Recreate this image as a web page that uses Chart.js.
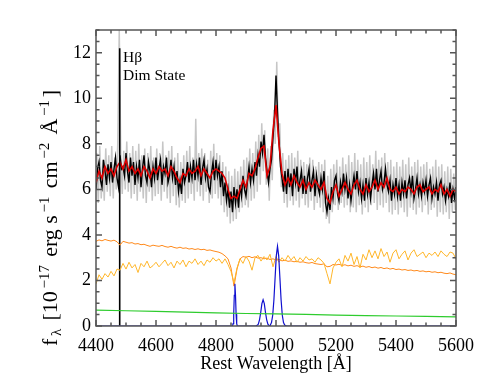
<!DOCTYPE html>
<html>
<head>
<meta charset="utf-8">
<script src="https://cdn.jsdelivr.net/npm/chart.js@4.4.1/dist/chart.umd.min.js"></script>
<style>
  html, body { margin: 0; padding: 0; background: #fff; }
  canvas { display: block; }
</style>
</head>
<body>
<canvas id="spec" width="485" height="388" style="width:485px;height:388px"></canvas>
<script>
// wavelength grids (Angstrom)
const grid = (start, step, n) => Array.from({length: n}, (_, i) => start + i * step);
const wave5 = grid(4400, 5, 241);
const waveGrey = grid(4402.5, 5, 240);
const wave10 = grid(4400, 10, 121);

// observed spectrum (black), 5 A steps
const blackFlux = [
  6.0, 6.9, 7.2, 6.4, 6.1, 7.3, 6.8, 6.2, 7.1, 6.5,
  7.2, 6.3, 6.9, 7.4, 6.5, 6.1, 7.5, 6.9, 7.0, 6.6,
  7.6, 6.8, 6.3, 7.4, 6.6, 7.2, 6.2, 7.0, 6.5, 7.3,
  6.1, 6.9, 7.5, 6.6, 6.3, 7.2, 6.8, 6.1, 7.0, 6.5,
  7.4, 6.4, 6.9, 7.3, 6.2, 7.0, 6.7, 7.4, 6.3, 6.6,
  7.3, 6.5, 7.0, 6.2, 6.8, 5.9, 6.4, 5.8, 6.9, 6.3,
  6.6, 7.2, 6.3, 7.0, 6.5, 7.3, 6.4, 7.1, 6.6, 7.4,
  6.2, 6.9, 7.3, 6.5, 6.9, 6.1, 5.9, 6.7, 7.2, 6.4,
  7.3, 6.6, 7.0, 6.1, 6.8, 5.7, 6.3, 5.5, 6.0, 5.2,
  5.9, 5.0, 6.1, 5.4, 6.0, 5.2, 6.2, 5.7, 6.6, 6.0,
  5.7, 6.4, 7.0, 6.3, 6.9, 6.4, 7.2, 6.6, 7.5, 7.0,
  8.1, 7.6, 8.4, 7.4, 6.8, 6.3, 6.9, 7.3, 8.3, 9.2,
  11.0, 9.4, 8.1, 7.0, 6.5, 5.9, 6.8, 5.8, 6.9, 6.1,
  6.7, 5.7, 6.9, 6.3, 7.0, 5.9, 6.4, 6.8, 5.8, 6.6,
  5.8, 6.5, 6.9, 5.9, 6.4, 6.8, 5.7, 6.6, 6.1, 5.8,
  6.5, 6.0, 6.8, 5.4, 5.0, 5.6, 5.1, 6.1, 5.6, 6.4,
  6.6, 5.8, 5.5, 6.3, 5.9, 6.7, 6.0, 6.5, 5.6, 6.2,
  5.5, 6.1, 6.6, 6.0, 6.8, 5.9, 6.3, 5.6, 6.2, 5.5,
  6.5, 5.8, 6.3, 5.6, 6.2, 6.7, 6.0, 6.9, 5.9, 6.4,
  6.8, 6.0, 6.3, 6.9, 6.2, 5.9, 6.4, 5.5, 6.2, 5.8,
  6.5, 5.7, 6.2, 5.5, 6.3, 5.8, 6.4, 5.6, 6.2, 6.5,
  5.9, 6.6, 5.6, 6.0, 6.5, 5.8, 6.2, 5.7, 6.3, 5.9,
  6.4, 5.7, 6.2, 6.5, 5.6, 6.1, 5.8, 6.3, 5.5, 6.2,
  6.4, 5.8, 6.1, 5.5, 6.0, 5.7, 6.3, 5.4, 6.0, 5.6,
  6.1
];

// error envelope (grey), offset grid
const greyFlux = [
  7.6, 5.4, 7.9, 5.6, 7.3, 5.5, 7.8, 5.9, 7.5, 5.7,
  7.9, 5.6, 7.4, 6.0, 8.0, 13.0, 7.6, 5.8, 7.7, 6.0,
  8.1, 5.9, 7.6, 5.6, 7.9, 5.8, 7.7, 5.5, 8.0, 5.9,
  7.5, 5.6, 7.8, 5.4, 7.6, 5.9, 7.9, 5.5, 7.4, 5.7,
  7.8, 5.8, 7.6, 5.5, 8.1, 5.9, 7.5, 5.6, 7.7, 5.4,
  7.9, 5.7, 7.4, 5.3, 7.6, 5.2, 7.2, 5.5, 7.5, 5.4,
  7.7, 5.6, 7.9, 5.8, 7.4, 5.5, 9.1, 5.9, 7.6, 5.7,
  7.8, 5.5, 7.6, 5.9, 7.3, 5.4, 7.7, 5.6, 8.0, 5.8,
  7.6, 5.6, 7.5, 5.3, 7.2, 5.0, 7.0, 4.8, 6.8, 4.5,
  6.6, 4.6, 6.9, 4.7, 6.8, 5.0, 7.0, 5.2, 7.3, 5.3,
  7.4, 5.2, 7.8, 5.5, 7.6, 5.6, 8.1, 5.9, 8.4, 6.2,
  8.9, 6.8, 8.6, 6.2, 7.8, 5.5, 7.9, 6.4, 9.5, 8.0,
  11.6, 8.3, 8.9, 6.1, 7.6, 5.4, 7.3, 5.2, 7.5, 5.5,
  7.6, 5.3, 7.4, 5.5, 7.7, 5.2, 7.3, 5.6, 7.2, 5.3,
  7.1, 5.2, 7.4, 5.5, 7.3, 5.1, 7.0, 5.4, 7.2, 5.2,
  7.1, 5.0, 7.3, 4.7, 6.6, 4.5, 6.9, 5.0, 7.1, 5.3,
  7.3, 5.1, 7.0, 5.4, 7.4, 5.2, 7.1, 5.3, 7.5, 5.0,
  7.2, 5.2, 7.6, 5.0, 7.3, 5.3, 7.1, 4.9, 7.4, 5.2,
  7.2, 5.0, 7.5, 5.3, 7.1, 5.4, 7.7, 5.1, 7.3, 5.3,
  7.4, 5.2, 7.6, 5.4, 7.2, 5.0, 7.3, 4.9, 7.0, 5.1,
  7.2, 4.9, 7.0, 5.2, 7.3, 5.0, 7.1, 4.8, 7.4, 5.2,
  7.0, 5.1, 7.2, 4.9, 7.3, 5.2, 7.0, 5.0, 7.1, 5.3,
  7.2, 4.9, 6.9, 5.1, 7.0, 5.2, 7.3, 4.8, 7.0, 5.0,
  7.1, 4.9, 6.8, 5.0, 7.0, 4.7, 6.9, 5.0, 6.7, 5.1
];

// total model fit (red), 10 A steps
const redFlux = [
  6.3, 6.8, 6.5, 7.0, 6.7, 6.9, 6.6, 7.0, 7.2, 6.9,
  7.3, 6.8, 7.0, 6.7, 6.9, 6.6, 7.0, 6.8, 6.5, 6.9,
  6.7, 7.0, 6.8, 6.9, 6.6, 7.0, 6.8, 6.5, 6.3, 6.7,
  6.6, 6.9, 6.7, 6.8, 7.0, 6.6, 6.9, 6.7, 6.5, 6.8,
  6.9, 6.8, 6.7, 6.5, 6.0, 5.6, 5.7, 5.6, 6.0, 6.4,
  6.1, 6.7, 6.6, 6.9, 7.4, 7.8, 7.9, 6.6, 7.0, 8.6,
  9.7, 8.0, 6.7, 6.2, 6.5, 6.2, 6.6, 6.3, 6.1, 6.4,
  6.0, 6.3, 6.1, 6.4, 6.2, 6.0, 6.3, 5.6, 5.4, 5.9,
  6.2, 5.7, 6.0, 6.3, 6.0, 5.8, 6.2, 6.4, 6.0, 5.8,
  6.2, 5.9, 6.1, 6.4, 6.0, 6.3, 6.1, 6.5, 6.0, 5.9,
  6.1, 5.8, 6.0, 5.9, 6.1, 6.0, 5.8, 6.1, 6.2, 5.9,
  6.0, 6.1, 5.8, 6.0, 5.9, 6.2, 5.8, 6.0, 5.7, 6.0,
  5.9
];

// continuum component (dark orange)
const orangeFlux = [
  3.72, 3.78, 3.74, 3.80, 3.76, 3.73, 3.77, 3.70, 3.55, 3.72,
  3.68, 3.64, 3.66, 3.60, 3.62, 3.57, 3.59, 3.54, 3.50, 3.55,
  3.52, 3.50, 3.54, 3.49, 3.46, 3.50, 3.45, 3.42, 3.46, 3.41,
  3.43, 3.38, 3.40, 3.36, 3.39, 3.35, 3.37, 3.32, 3.34, 3.30,
  3.27, 3.24, 3.18, 3.08, 2.95, 2.55, 1.75, 2.50, 2.95, 3.05,
  3.02, 3.06, 3.00, 3.04, 2.98, 3.00, 2.95, 2.98, 2.92, 2.95,
  2.90, 2.92, 2.86, 2.89, 2.84, 2.86, 2.82, 2.84, 2.80, 2.82,
  2.78, 2.76, 2.79, 2.74, 2.72, 2.70, 2.73, 2.60, 2.62, 2.70,
  2.68, 2.71, 2.66, 2.69, 2.64, 2.67, 2.62, 2.65, 2.60, 2.63,
  2.58, 2.61, 2.56, 2.59, 2.54, 2.57, 2.52, 2.55, 2.50, 2.53,
  2.48, 2.50, 2.46, 2.48, 2.44, 2.46, 2.42, 2.44, 2.40, 2.42,
  2.38, 2.40, 2.36, 2.38, 2.34, 2.36, 2.32, 2.30, 2.33, 2.28,
  2.25
];

// host galaxy component (yellow-orange)
const yellowFlux = [
  1.85, 2.25, 2.05, 2.30, 2.15, 2.40, 2.20, 2.50, 2.45, 2.75,
  2.50, 2.80, 2.55, 2.70, 2.35, 2.75, 2.60, 2.85, 2.55, 2.65,
  2.80, 2.60, 2.75, 2.90, 2.65, 2.80, 2.55, 2.85, 2.70, 2.90,
  2.60, 2.85, 2.75, 2.95, 2.70, 2.85, 2.65, 2.90, 2.80, 3.00,
  2.85, 2.95, 2.75, 2.95, 2.70, 2.40, 1.90, 2.55, 2.95, 2.75,
  3.05, 2.85, 2.45, 3.00, 3.10, 2.85, 3.05, 2.90, 3.15, 2.60,
  3.05, 2.80, 3.00, 2.85, 3.10, 2.90, 3.05, 2.80, 3.00, 2.85,
  3.05, 2.90, 2.95, 2.80, 3.00, 2.90, 2.75, 2.30, 1.85, 2.55,
  2.80, 2.95, 2.60, 3.10, 2.85, 3.20, 2.70, 3.05, 2.55, 3.15,
  2.90, 3.35, 3.00, 3.30, 2.95, 3.40, 3.05, 3.25, 2.80, 3.20,
  3.35, 2.95, 3.15, 3.30, 2.90, 3.20, 3.35, 3.05, 3.15, 3.25,
  3.00, 3.20, 3.10, 3.25, 3.05, 3.30, 3.15, 3.05, 3.25, 3.20,
  2.95
];

// narrow lines: Hbeta, [OIII] 4959, [OIII] 5007 (blue)
const blueWave = [4400, 4855, 4857, 4859, 4861, 4863, 4865, 4867, 4869, 4871,
  4933, 4937, 4941, 4945, 4949, 4953, 4957, 4961, 4965, 4969, 4973, 4977, 4980,
  4981, 4985, 4989, 4993, 4997, 5001, 5005, 5009, 5013, 5017, 5021, 5025, 5029, 5035, 5600];
const blueFlux = [0, 0, 0.10, 0.52, 1.35, 1.85, 1.35, 0.52, 0.10, 0,
  0, 0.03, 0.08, 0.27, 0.59, 0.98, 1.15, 0.98, 0.59, 0.27, 0.08, 0.02, 0,
  0.04, 0.15, 0.47, 1.14, 2.12, 3.08, 3.5, 3.08, 2.12, 1.14, 0.47, 0.15, 0.04, 0, 0];

// power-law continuum (green)
const greenWave = [4400, 4500, 4600, 4700, 4800, 4900, 5000, 5100, 5200, 5300, 5400, 5500, 5600];
const greenFlux = [0.70, 0.67, 0.64, 0.61, 0.58, 0.55, 0.53, 0.51, 0.48, 0.46, 0.44, 0.42, 0.40];

// Hbeta marker
const hbWave = [4479, 4479];
const hbFlux = [0, 12.2];

const xTicks = [4400, 4600, 4800, 5000, 5200, 5400, 5600];
const yTicks = [0, 2, 4, 6, 8, 10, 12];

const pts = (xs, ys) => ys.map((v, i) => ({x: xs[i], y: v}));
const serif = "'Liberation Serif', 'DejaVu Serif', serif";
const axisCol = '#555';

// order: higher numbers are painted first (underneath)
const line = (xs, ys, color, width, order) => ({
  data: pts(xs, ys),
  borderColor: color,
  borderWidth: width,
  pointRadius: 0,
  fill: false,
  tension: 0,
  order: order
});

// inward ticks, frame, labels
const decor = {
  id: 'decor',
  afterDraw(chart) {
    const {ctx, chartArea: a, scales: {x, y}} = chart;
    ctx.save();
    ctx.strokeStyle = axisCol;
    ctx.lineWidth = 1.5;
    ctx.strokeRect(a.left, a.top, a.right - a.left, a.bottom - a.top);
    ctx.beginPath();
    for (let w = 4400; w <= 5600; w += 50) {
      const px = x.getPixelForValue(w);
      const len = w % 200 === 0 ? 6 : 3.5;
      ctx.moveTo(px, a.bottom); ctx.lineTo(px, a.bottom - len);
      ctx.moveTo(px, a.top); ctx.lineTo(px, a.top + len);
    }
    for (let v = 0; v <= 13; v += 0.5) {
      const py = y.getPixelForValue(v);
      const len = v % 2 === 0 ? 6 : 3.5;
      ctx.moveTo(a.left, py); ctx.lineTo(a.left + len, py);
      ctx.moveTo(a.right, py); ctx.lineTo(a.right - len, py);
    }
    ctx.stroke();

    ctx.fillStyle = '#000';
    ctx.textBaseline = 'alphabetic';
    ctx.textAlign = 'left';
    ctx.font = `15.5px ${serif}`;
    ctx.fillText('H\u03b2', 123, 62);
    ctx.fillText('Dim State', 123, 80);

    ctx.textAlign = 'center';
    ctx.font = `18px ${serif}`;
    ctx.fillText('Rest Wavelength [\u00c5]', (a.left + a.right) / 2, 369);

    // y title with sub/superscripts, spread evenly over the target length
    const parts = [
      ['f', 0, 22], ['\u03bb', 4, 15], [' [10', 0, 22], ['\u221217', -8, 15],
      [' erg s', 0, 22], ['\u22121', -8, 15], [' cm', 0, 22], ['\u22122', -8, 15],
      [' \u00c5', 0, 22], ['\u22121', -8, 15], [']', 0, 22]
    ];
    let total = 0;
    parts.forEach(p => { ctx.font = `${p[2]}px ${serif}`; total += ctx.measureText(p[0]).width; });
    const target = 256;
    const gap = Math.max(0, (target - total) / (parts.length - 1));
    ctx.translate(50, 218);
    ctx.rotate(-Math.PI / 2);
    ctx.textAlign = 'left';
    let cx = -target / 2;
    parts.forEach(p => {
      ctx.font = `${p[2]}px ${serif}`;
      ctx.fillText(p[0], cx, 7 + p[1]);
      cx += ctx.measureText(p[0]).width + gap;
    });
    ctx.restore();
  }
};

new Chart(document.getElementById('spec').getContext('2d'), {
  type: 'line',
  data: {
    datasets: [
      line(waveGrey, greyFlux, '#c6c6c6', 1.5, 8),
      line(wave5, blackFlux, '#000000', 1.4, 7),
      line(wave10, redFlux, '#e00000', 1.6, 6),
      line(hbWave, hbFlux, '#000000', 1.6, 5),
      line(wave10, orangeFlux, '#ff8a1c', 1, 4),
      line(wave10, yellowFlux, '#ffb62a', 1, 3),
      line(blueWave, blueFlux, '#1010d0', 1.2, 2),
      line(greenWave, greenFlux, '#2ecc2e', 1.2, 1)
    ]
  },
  options: {
    responsive: false,
    animation: false,
    layout: { padding: { top: 30, right: 29, left: 0, bottom: 0 } },
    plugins: {
      legend: { display: false },
      tooltip: { enabled: false }
    },
    scales: {
      x: {
        type: 'linear',
        min: 4400, max: 5600,
        afterFit: s => { s.height = 62; },
        afterBuildTicks: s => { s.ticks = xTicks.map(v => ({value: v})); },
        grid: { display: false, drawTicks: false },
        border: { display: false },
        ticks: { padding: 9, color: '#000', font: { family: serif, size: 18 }, maxRotation: 0,
                 callback: v => String(v) }
      },
      y: {
        type: 'linear',
        min: 0, max: 13,
        afterFit: s => { s.width = 96; },
        afterBuildTicks: s => { s.ticks = yTicks.map(v => ({value: v})); },
        grid: { display: false, drawTicks: false },
        border: { display: false },
        ticks: { padding: 5, color: '#000', font: { family: serif, size: 18 },
                 callback: v => String(v) }
      }
    }
  },
  plugins: [decor]
});
</script>
</body>
</html>
